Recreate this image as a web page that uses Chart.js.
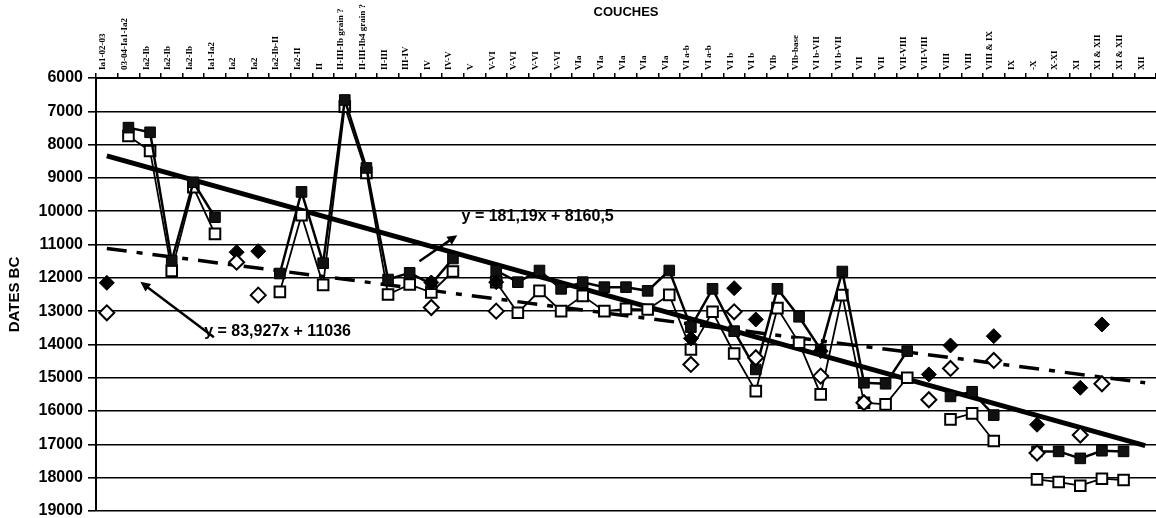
<!DOCTYPE html>
<html lang="fr">
<head>
<meta charset="utf-8">
<title>Dates BC par couche</title>
<script src="https://cdn.jsdelivr.net/npm/chart.js@4.4.1/dist/chart.umd.min.js"></script>
<style>
  html, body { margin: 0; padding: 0; background: #fff; }
  #zone { width: 1156px; height: 518px; }
</style>
</head>
<body>
<div id="zone"><canvas id="graphique" width="1156" height="518"></canvas></div>
<script>
// couches (axe du haut)
const couches = [
  'Ia1-02-03', '03-04-Ia1-Ia2', 'Ia2-Ib', 'Ia2-Ib', 'Ia2-Ib', 'Ia1-Ia2', 'Ia2', 'Ia2',
  'Ia2-Ib-II', 'Ia2-II', 'II', 'II-III-Ib grain ?', 'II-III-Ib4 grain ?', 'II-III', 'III-IV',
  'IV', 'IV-V', 'V', 'V-VI', 'V-VI', 'V-VI', 'V-VI', 'VIa', 'VIa', 'VIa', 'VIa', 'VIa',
  'VI a-b', 'VI a-b', 'VI b', 'VI b', 'VIb', 'VIb-base', 'VI b-VII', 'VI b-VII', 'VII', 'VII',
  'VII-VIII', 'VII-VIII', 'VIII', 'VIII', 'VIII & IX', 'IX', '-X', 'X-XI', 'XI', 'XI & XII',
  'XI & XII', 'XII'
];

// carrés pleins
const carresPleins = [
  null, 7490, 7630, 11490, 9130, 10180, null, null, 11870, 9420, 11560, 6660, 8700, 12050,
  11850, 12190, 11420, null, 11780, 12130, 11780, 12330, 12130, 12280, 12280, 12390, 11780,
  13480, 12330, 13600, 14750, 12330, 13170, 14150, 11810, 15150, 15180, 14200, null, 15560,
  15420, 16120, null, 17210, 17210, 17420, 17190, 17210, null
];

// carrés vides
const carresVides = [
  null, 7740, 8190, 11790, 9280, 10680, null, null, 12420, 10120, 12210, 6860, 8850, 12500,
  12200, 12440, 11810, null, 12130, 13050, 12390, 13000, 12540, 13000, 12930, 12950, 12510,
  14150, 13020, 14270, 15400, 12910, 13950, 15500, 12520, 15750, 15800, 15000, null, 16250,
  16070, 16900, null, 18050, 18130, 18240, 18030, 18070, null
];

// losanges pleins
const losangesPleins = [
  12150, null, null, null, null, null, 11230, 11200, null, null, null, null, null, null,
  null, 12140, null, null, 12130, null, null, null, null, null, null, null, null,
  13820, null, 12310, 13250, null, null, 14200, null, null, null, null, 14900, 14030,
  null, 13750, null, 16410, null, 15300, 13400, null, null
];

// losanges vides
const losangesVides = [
  13050, null, null, null, null, null, 11530, 12520, null, null, null, null, null, null,
  null, 12890, null, null, 13000, null, null, null, null, null, null, null, null,
  14600, null, 13020, 14400, null, null, 14950, null, 15750, null, null, 15660, 14720,
  null, 14480, null, 17260, null, 16720, 15180, null, null
];

// tendances : valeur à la première et à la dernière couche
const tendancePleine = [8340, 17040];
const tendanceTirets = [11120, 15150];

const POLICE = '"Liberation Sans", Arial, Helvetica, sans-serif';
Chart.defaults.font.family = POLICE;
Chart.defaults.color = '#000';

const ligneTendance = (bouts) =>
  couches.map((_, i) => (i === 0 ? bouts[0] : i === couches.length - 1 ? bouts[1] : null));

function fleche(ctx, [x1, y1], [x2, y2]) {
  const a = Math.atan2(y2 - y1, x2 - x1);
  const l = 11;
  ctx.lineWidth = 2.5;
  ctx.beginPath();
  ctx.moveTo(x1, y1);
  ctx.lineTo(x2 - Math.cos(a) * 6, y2 - Math.sin(a) * 6);
  ctx.stroke();
  ctx.beginPath();
  ctx.moveTo(x2, y2);
  ctx.lineTo(x2 - l * Math.cos(a - 0.45), y2 - l * Math.sin(a - 0.45));
  ctx.lineTo(x2 - l * Math.cos(a + 0.45), y2 - l * Math.sin(a + 0.45));
  ctx.closePath();
  ctx.fill();
}

// équations des droites et leurs flèches
const equations = {
  id: 'equations',
  afterDatasetsDraw(chart) {
    const { ctx, scales: { x, y } } = chart;
    const px = (i, v) => [x.getPixelForValue(i), y.getPixelForValue(v)];
    ctx.save();
    ctx.fillStyle = '#000';
    ctx.strokeStyle = '#000';
    ctx.font = 'bold 16px ' + POLICE;
    ctx.textBaseline = 'middle';
    let [tx, ty] = px(16.4, 10150);
    ctx.fillText('y = 181,19x + 8160,5', tx, ty);
    [tx, ty] = px(4.5, 13600);
    ctx.fillText('y = 83,927x + 11036', tx, ty);
    fleche(ctx, px(14.45, 11500), px(16.2, 10720));
    fleche(ctx, px(4.95, 13780), px(1.55, 12120));
    ctx.restore();
  }
};

new Chart(document.getElementById('graphique'), {
  type: 'line',
  data: {
    labels: couches,
    datasets: [
      {
        label: 'losanges vides',
        data: losangesVides,
        showLine: false,
        pointStyle: 'rectRot',
        pointRadius: 7.5,
        pointBorderWidth: 2,
        pointBorderColor: '#000',
        pointBackgroundColor: '#fff',
        order: 0
      },
      {
        label: 'losanges pleins',
        data: losangesPleins,
        showLine: false,
        pointStyle: 'rectRot',
        pointRadius: 7.5,
        pointBorderWidth: 1,
        pointBorderColor: '#000',
        pointBackgroundColor: '#000',
        order: 1
      },
      {
        label: 'carrés pleins',
        data: carresPleins,
        borderColor: '#000',
        borderWidth: 2.5,
        pointStyle: 'rect',
        pointRadius: 7.5,
        pointBorderWidth: 1,
        pointBorderColor: '#000',
        pointBackgroundColor: '#111',
        spanGaps: false,
        order: 2
      },
      {
        label: 'carrés vides',
        data: carresVides,
        borderColor: '#000',
        borderWidth: 1.8,
        pointStyle: 'rect',
        pointRadius: 7.5,
        pointBorderWidth: 2,
        pointBorderColor: '#000',
        pointBackgroundColor: '#fff',
        spanGaps: false,
        order: 3
      },
      {
        label: 'tendance carrés',
        data: ligneTendance(tendancePleine),
        borderColor: '#000',
        borderWidth: 5,
        pointRadius: 0,
        spanGaps: true,
        order: 4
      },
      {
        label: 'tendance losanges',
        data: ligneTendance(tendanceTirets),
        borderColor: '#000',
        borderWidth: 3.5,
        borderDash: [20, 10, 6, 10],
        pointRadius: 0,
        spanGaps: true,
        order: 5
      }
    ]
  },
  options: {
    responsive: false,
    animation: false,
    events: [],
    layout: { autoPadding: false, padding: { left: 0, right: 0, top: 0, bottom: 7 } },
    plugins: { legend: { display: false }, tooltip: { enabled: false } },
    scales: {
      x: {
        type: 'category',
        position: 'top',
        offset: true,
        grid: { display: true, drawOnChartArea: false, offset: true, color: '#000', lineWidth: 1.5, tickLength: 5 },
        border: { display: true, color: '#000', width: 2 },
        ticks: {
          autoSkip: false,
          minRotation: 90,
          maxRotation: 90,
          padding: 3,
          labelOffset: 7,
          color: '#000',
          font: { family: '"Liberation Serif", "Times New Roman", serif', size: 9, weight: 'bold' }
        },
        title: {
          display: true,
          text: 'COUCHES',
          color: '#000',
          font: { size: 13, weight: 'bold' },
          padding: { top: 5, bottom: 0 }
        },
        afterFit: (s) => { s.height = 78; s.paddingLeft = 0; s.paddingRight = 0; }
      },
      y: {
        reverse: true,
        min: 6000,
        max: 19000,
        ticks: {
          stepSize: 1000,
          color: '#000',
          padding: 5,
          font: { size: 16, weight: 'bold' },
          callback: (v) => String(v)
        },
        grid: { color: '#000', lineWidth: 1.6, tickLength: 8 },
        border: { display: true, color: '#000', width: 2 },
        title: {
          display: true,
          text: 'DATES BC',
          color: '#000',
          font: { size: 15, weight: 'bold' },
          padding: { top: 6, bottom: 0 }
        },
        afterFit: (s) => { s.width = 96; s.paddingTop = 0; s.paddingBottom = 0; }
      }
    }
  },
  plugins: [equations]
});
</script>
</body>
</html>
